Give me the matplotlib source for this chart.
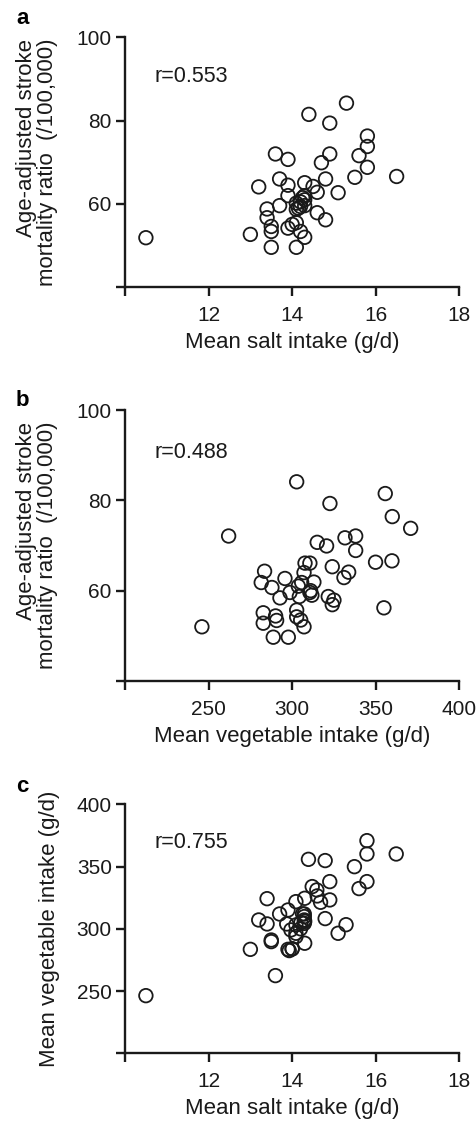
import matplotlib
matplotlib.use('Agg')
import matplotlib.pyplot as plt

plt.rcParams['font.family'] = ['Liberation Sans', 'DejaVu Sans']

# panel a: salt intake vs stroke mortality
salt_a = [10.5, 13.0, 13.2, 13.4, 13.4, 13.5, 13.5, 13.5, 13.6, 13.7, 13.7, 13.9,
          13.9, 13.9, 13.9, 14.0, 14.1, 14.1, 14.2, 14.3, 14.1, 14.1, 14.2, 14.3,
          14.3, 14.3, 14.3, 14.4, 14.5, 14.6, 14.6, 14.7, 14.8, 14.8, 14.9, 14.9,
          15.1, 15.3, 15.5, 15.6, 15.8, 15.8, 15.8, 16.5, 14.2, 14.15, 14.25]
stroke_a = [51.9, 52.7, 64.1, 58.8, 56.7, 54.6, 53.4, 49.6, 72.0, 66.0, 59.6, 70.7,
            64.5, 62.0, 54.2, 55.1, 55.5, 49.6, 53.4, 52.0, 60.2, 58.7, 59.4, 59.6,
            61.0, 62.0, 65.1, 81.5, 64.2, 62.8, 57.9, 69.9, 66.0, 56.2, 79.4, 72.0,
            62.7, 84.2, 66.4, 71.6, 76.3, 73.8, 68.8, 66.6, 60.5, 59.0, 61.5]

# panel b: vegetable intake vs stroke mortality
veg_b = [246, 262, 281.5, 283.5, 282.7, 282.7, 287.9, 288.7, 290.1, 290.7, 292.7,
         295.7, 297.7, 298.7, 302.7, 302.7, 302.7, 303.7, 304.3, 305.1, 307.1, 305.7,
         307.1, 307.7, 310.6, 310.6, 311.8, 313.0, 315.0, 320.6, 321.6, 322.6, 324.0,
         324.0, 325.0, 331.0, 331.6, 333.8, 338.0, 338.0, 349.9, 354.9, 355.7, 359.7,
         359.9, 370.9, 311.0]
stroke_b = [52.0, 72.1, 61.8, 64.3, 55.1, 52.8, 60.7, 49.7, 54.4, 53.4, 58.4,
            62.7, 49.7, 59.6, 84.1, 55.7, 54.2, 61.0, 58.7, 53.5, 52.0, 61.8,
            64.0, 66.1, 66.1, 59.6, 59.0, 61.9, 70.7, 69.9, 58.7, 79.3, 65.3,
            56.9, 57.9, 62.9, 71.7, 64.1, 72.1, 68.9, 66.3, 56.2, 81.5, 66.6,
            76.4, 73.8, 60.0]

# panel c: salt intake vs vegetable intake
salt_c = [10.5, 13.0, 13.2, 13.4, 13.4, 13.5, 13.5, 13.6, 13.7, 13.9, 13.9, 13.93,
          14.0, 13.87, 13.97, 14.09, 14.09, 14.09, 14.09, 14.21, 14.29, 14.29, 14.29,
          14.29, 14.3, 14.3, 14.39, 14.48, 14.59, 14.6, 14.68, 14.79, 14.79, 14.9,
          14.9, 15.1, 15.29, 15.49, 15.6, 15.79, 15.79, 15.79, 16.49, 14.3, 14.2,
          14.0, 14.25]
veg_c = [246.3, 283.5, 307.1, 303.9, 324.2, 291.0, 289.7, 262.4, 311.9, 315.1, 283.5,
         282.5, 283.8, 303.9, 299.1, 303.1, 296.4, 321.8, 293.7, 305.0, 311.9, 309.8,
         307.1, 304.4, 324.5, 288.4, 355.8, 333.9, 331.2, 326.4, 321.3, 354.8, 308.2,
         337.9, 323.2, 296.4, 303.3, 349.9, 332.3, 370.8, 360.1, 337.9, 360.1, 306.0,
         300.0, 284.0, 312.0]

r_values = ['r=0.553', 'r=0.488', 'r=0.755']
panel_letters = ['a', 'b', 'c']

fig = plt.figure(figsize=(4.77, 11.21), dpi=100)
W, H = 477, 1121

def make_ax(left, top, right, bottom):
    return fig.add_axes([left / W, 1 - bottom / H, (right - left) / W, (bottom - top) / H])

ax_a = make_ax(125, 37.3, 459.3, 287.3)
ax_b = make_ax(125, 410, 459.3, 681)
ax_c = make_ax(125, 804.3, 459.3, 1053.3)

panels = [
    (ax_a, salt_a, stroke_a, (10, 18), [10, 12, 14, 16, 18], (40, 100), [40, 60, 80, 100],
     'Mean salt intake (g/d)', 'Age-adjusted stroke\nmortality ratio  (/100,000)'),
    (ax_b, veg_b, stroke_b, (200, 400), [200, 250, 300, 350, 400], (40, 100), [40, 60, 80, 100],
     'Mean vegetable intake (g/d)', 'Age-adjusted stroke\nmortality ratio  (/100,000)'),
    (ax_c, salt_c, veg_c, (10, 18), [10, 12, 14, 16, 18], (200, 400), [200, 250, 300, 350, 400],
     'Mean salt intake (g/d)', 'Mean vegetable intake (g/d)'),
]
letter_y = [19, 401, 786]
ylabel_x = [37, 37, 50]

tick_fs = 15
label_fs = 16
ink = '#1a1a1a'
for i, (ax, x, y, xlim, xt, ylim, yt, xl, yl) in enumerate(panels):
    ax.scatter(x, y, s=95, facecolors='none', edgecolors=ink, linewidths=1.3, clip_on=False)
    ax.set_xlim(*xlim)
    ax.set_ylim(*ylim)
    ax.set_xticks(xt)
    ax.set_xticklabels([''] + [str(t) for t in xt[1:]])
    ax.set_yticks(yt)
    ax.set_yticklabels([''] + [str(t) for t in yt[1:]])
    for s in ['top', 'right']:
        ax.spines[s].set_visible(False)
    for s in ['left', 'bottom']:
        ax.spines[s].set_linewidth(1.7)
        ax.spines[s].set_color(ink)
    ax.tick_params(axis='both', direction='out', length=6.5, width=1.7, labelsize=tick_fs,
                   color=ink, labelcolor=ink)
    ax.tick_params(axis='x', pad=7)
    ax.tick_params(axis='y', pad=3)
    ax.set_xlabel(xl, fontsize=label_fs, labelpad=5, color=ink)
    # y label drawn as figure text so both lines can be placed like the reference
    pos = ax.get_position()
    fig.text(ylabel_x[i] / W, (pos.y0 + pos.y1) / 2, yl, rotation=90, fontsize=label_fs,
             ha='center', va='center', multialignment='right', linespacing=1.0, color=ink)
    ax.text(0.087, 0.845, r_values[i], transform=ax.transAxes, fontsize=15.5,
            ha='left', va='center', color=ink)
    fig.text(16 / W, 1 - letter_y[i] / H, panel_letters[i], fontsize=16,
             fontweight='bold', ha='left', va='center')

fig.savefig('out.png', dpi=100)
